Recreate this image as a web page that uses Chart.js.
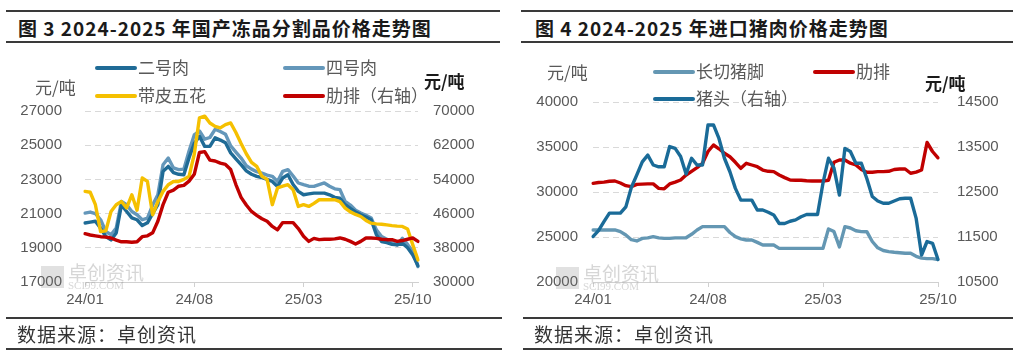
<!DOCTYPE html>
<html>
<head>
<meta charset="utf-8">
<script src="https://cdn.jsdelivr.net/npm/chart.js@4.4.1/dist/chart.umd.min.js"></script>
<style>
	body { margin: 0; background: #fff; width: 1019px; height: 360px; position: relative; overflow: hidden; }
	.rule { position: absolute; height: 2px; background: #3a3a3a; }
	.title { position: absolute; top: 17px; font: 700 19px 'Noto Sans CJK SC'; line-height: 22px; color: #1a1a1a; letter-spacing: 1px; white-space: nowrap; }
	.source { position: absolute; top: 323px; font: 19px 'Noto Sans CJK SC'; line-height: 22px; color: #333; letter-spacing: 1px; white-space: nowrap; }
	canvas { position: absolute; top: 0; }
</style>
</head>
<body>
<div class="rule" style="left:6px;top:10px;width:494px"></div>
<div class="title" style="left:18px">图 3 2024-2025 年国产冻品分割品价格走势图</div>
<div class="rule" style="left:6px;top:41px;width:494px"></div>
<canvas id="dongpin" width="510" height="360" style="left:0"></canvas>
<div class="rule" style="left:6px;top:317px;width:496px"></div>
<div class="source" style="left:17px">数据来源：卓创资讯</div>
<div class="rule" style="left:6px;top:348px;width:496px"></div>

<div class="rule" style="left:521px;top:10px;width:492px"></div>
<div class="title" style="left:535px">图 4 2024-2025 年进口猪肉价格走势图</div>
<div class="rule" style="left:521px;top:41px;width:492px"></div>
<canvas id="jinkou" width="509" height="360" style="left:510px"></canvas>
<div class="rule" style="left:523px;top:317px;width:490px"></div>
<div class="source" style="left:534px">数据来源：卓创资讯</div>
<div class="rule" style="left:523px;top:348px;width:490px"></div>

<script>
// 每月三个点（上/中/下旬）
const months = ['24/01', '24/02', '24/03', '24/04', '24/05', '24/06', '24/07', '24/08', '24/09', '24/10', '24/11', '24/12',
	'25/01', '25/02', '25/03', '25/04', '25/05', '25/06', '25/07', '25/08', '25/09', '25/10'];
const tickLabels = ['24/01', '24/08', '25/03', '25/10'];
const categories = months.flatMap((m) => [m + '上', m + '中', m + '下']).slice(0, 65);

// 图3 国产冻品分割品（元/吨）
const erHaoRou = [20450, 20500, 20550, 20150, 19660, 19460, 19870, 21500, 21120, 20750,
	20640, 20300, 20460, 21000, 21520, 23470, 23760, 23400, 23300, 23270,
	24270, 25100, 25520, 24930, 24930, 25430, 25300, 25140, 24550, 24200,
	23860, 23500, 23300, 23180, 23100, 23000, 22880, 22590, 23080, 23270,
	22700, 22300, 22100, 22150, 22200, 22200, 22200, 22100, 21950, 21900,
	21520, 21300, 21100, 20930, 20800, 20640, 19760, 19370, 19300, 19200,
	19170, 19270, 19000, 18580, 17950];
const siHaoRou = [21030, 21090, 21000, 20640, 19950, 19760, 20150, 21710, 21520, 21120,
	20930, 20640, 20740, 21500, 22100, 23860, 24250, 23670, 23570, 23600,
	24660, 25600, 25830, 25350, 25450, 25930, 25800, 25640, 24960, 24600,
	24250, 23800, 23600, 23450, 23370, 23250, 23180, 22880, 23470, 23570,
	23200, 22790, 22690, 22600, 22590, 22700, 22790, 22600, 22450, 22400,
	21710, 21500, 21200, 21030, 20900, 20740, 20050, 19660, 19500, 19300,
	19170, 19560, 19200, 18780, 17900];
const daiPiWuHua = [22300, 22250, 21520, 19950, 19990, 21120, 21520, 21710, 21330, 22100,
	21200, 23080, 22880, 20930, 21700, 22300, 22690, 22880, 22880, 23000,
	23180, 24470, 26600, 26700, 26300, 26100, 26010, 26200, 26300, 25740,
	25100, 24500, 24000, 23760, 23180, 23000, 21520, 22500, 22600, 22690,
	22400, 21420, 21520, 21420, 21600, 21810, 21810, 21810, 21810, 21700,
	21320, 21100, 20950, 20830, 20600, 20440, 20400, 20380, 20340, 20300,
	20270, 20250, 20100, 19170, 18290];
const leiPai = [41300, 41000, 40800, 40600, 40500, 40300, 39800, 39400, 39400, 39300,
	39400, 40600, 40800, 41500, 44200, 48100, 51000, 51500, 52400, 52600,
	53600, 55200, 60300, 60500, 58500, 58300, 57800, 57500, 56300, 52800,
	49800, 48000, 46500, 45600, 44800, 44200, 43000, 42200, 43900, 43900,
	43900, 42500, 40700, 39500, 40200, 39900, 40000, 40000, 40100, 40300,
	40000, 39500, 38900, 39500, 40300, 40300, 40200, 40000, 39900, 39900,
	39500, 39700, 40000, 40300, 39500];

// 图4 进口猪肉（元/吨）
const changQieZhuJiao = [25780, 25780, 25780, 25780, 25780, 25600, 25220, 24700, 24560, 24850,
	24900, 25040, 24900, 24850, 24850, 24900, 24900, 24920, 25300, 25780,
	26150, 26150, 26150, 26150, 26150, 25500, 25040, 24800, 24670, 24670,
	24400, 24110, 24110, 24110, 23740, 23740, 23740, 23740, 23740, 23740,
	23740, 23740, 23740, 25900, 25600, 23900, 26150, 26000, 25700, 25600,
	25590, 24500, 23800, 23500, 23370, 23300, 23250, 23200, 23190, 22850,
	22650, 22600, 22600, 22500];
const jinKouLeiPai = [30960, 31050, 31100, 31200, 31220, 31000, 30700, 30590, 30850, 30880,
	30900, 30900, 30400, 30350, 30900, 31100, 31330, 31890, 32300, 32700,
	33190, 34500, 35220, 34800, 34300, 33920, 33300, 32630, 33190, 33000,
	32810, 32440, 32300, 32260, 31890, 31600, 31330, 31300, 31300, 31250,
	31220, 31220, 31220, 31300, 33300, 33560, 33560, 33200, 33000, 32500,
	32190, 32200, 32260, 32260, 32300, 32500, 32560, 32560, 32080, 32200,
	32440, 35500, 34500, 33800];
const zhuTou = [11510, 11640, 11840, 12030, 12030, 12030, 12170, 12600, 12880, 13170,
	13320, 13100, 13060, 13060, 13510, 13470, 13290, 12900, 13250, 13100,
	13100, 13990, 13990, 13690, 13250, 12950, 12580, 12320, 12320, 12320,
	12100, 12100, 12050, 11990, 11800, 11800, 11850, 11880, 11950, 12000,
	12000, 12000, 12700, 13250, 13030, 12430, 13470, 13400, 13140, 13140,
	12800, 12400, 12300, 12250, 12250, 12300, 12350, 12360, 12360, 11920,
	11100, 11400, 11360, 11000];

const tickFont = { family: 'Liberation Sans', size: 15 };
const gray = '#595959';

const xTick = (value, index) => {
	const lab = categories[index];
	if (lab.endsWith('上') && tickLabels.includes(lab.slice(0, 5))) return lab.slice(0, 5);
	return null;
};
const plainNum = (v) => String(v);

// 图例、单位、水印
const decor = (spots, units, mark) => ({
	id: 'decor',
	beforeDatasetsDraw(chart) {
		const c = chart.ctx;
		c.save();
		c.fillStyle = 'rgba(120,120,120,0.22)';
		c.fillRect(mark[0] - 27, mark[1] - 7, 23, 22);
		c.fillStyle = 'rgba(120,120,120,0.3)';
		c.font = '19px "Noto Sans CJK SC"';
		c.textBaseline = 'middle';
		c.fillText('卓创资讯', mark[0], mark[1]);
		c.font = '11px "Liberation Serif"';
		c.fillText('SCI99.COM', mark[0], mark[1] + 13);
		c.restore();
	},
	afterDraw(chart) {
		const c = chart.ctx;
		c.save();
		c.textBaseline = 'middle';
		chart.data.datasets.forEach((ds, i) => {
			const p = spots[i];
			c.strokeStyle = ds.borderColor;
			c.lineWidth = 4;
			c.lineCap = 'round';
			c.beginPath();
			c.moveTo(p[0], p[1]);
			c.lineTo(p[0] + 38, p[1]);
			c.stroke();
			c.fillStyle = gray;
			c.font = '17px "Noto Sans CJK SC"';
			c.fillText(ds.label, p[0] + 41, p[1]);
		});
		units.forEach((u) => {
			c.fillStyle = u[2];
			c.font = u[3] + ' 17px "Noto Sans CJK SC"';
			c.fillText('元/吨', u[0], u[1]);
		});
		c.restore();
	}
});

const lineOpts = (padding, left, right) => ({
	responsive: false,
	animation: false,
	layout: { padding: padding },
	plugins: { legend: { display: false }, tooltip: { enabled: false } },
	elements: {
		point: { radius: 0 },
		line: { borderWidth: 3.4, tension: 0, borderJoinStyle: 'round', borderCapStyle: 'round' }
	},
	scales: {
		x: {
			grid: { drawOnChartArea: false, drawTicks: true, tickLength: 5, color: '#d0d0d0' },
			border: { color: '#d0d0d0' },
			ticks: { autoSkip: false, maxRotation: 0, padding: 4, color: gray, font: tickFont, callback: xTick },
			afterFit: (s) => { s.height = 30; }
		},
		y: {
			position: 'left',
			min: left[0], max: left[1],
			ticks: { stepSize: left[2], padding: left[3], color: gray, font: tickFont, callback: plainNum },
			grid: { color: '#d9d9d9', drawTicks: false },
			border: { display: false, dash: [6, 4] },
			afterFit: (s) => { s.width = 70; }
		},
		y1: {
			position: 'right',
			min: right[0], max: right[1],
			ticks: { stepSize: right[2], padding: right[3], color: gray, font: tickFont, callback: plainNum },
			grid: { display: false, drawTicks: false },
			border: { display: false },
			afterFit: (s) => { s.width = 70; }
		}
	}
});

const ctx = document.getElementById('dongpin').getContext('2d');
const ctx_2 = document.getElementById('jinkou').getContext('2d');

new Chart(ctx, {
	type: 'line',
	data: {
		labels: categories,
		datasets: [
			{ label: '二号肉', data: erHaoRou, borderColor: '#1f6b96', yAxisID: 'y', order: 2 },
			{ label: '四号肉', data: siHaoRou, borderColor: '#6497ba', yAxisID: 'y', order: 3 },
			{ label: '带皮五花', data: daiPiWuHua, borderColor: '#f5c000', yAxisID: 'y', order: 1 },
			{ label: '肋排（右轴）', data: leiPai, borderColor: '#c00000', yAxisID: 'y1', order: 0 }
		]
	},
	options: lineOpts({ left: 15, right: 22, top: 111, bottom: 48 }, [17000, 27000, 2000, 23], [30000, 70000, 8000, 15]),
	plugins: [decor([[97, 68], [285, 68], [97, 96], [285, 96]], [[35, 88, gray, 'normal'], [424, 82, '#1a1a1a', 'bold']], [68, 273])]
});

new Chart(ctx_2, {
	type: 'line',
	data: {
		labels: categories.slice(0, 64),
		datasets: [
			{ label: '长切猪脚', data: changQieZhuJiao, borderColor: '#6497b3', yAxisID: 'y', order: 2 },
			{ label: '肋排', data: jinKouLeiPai, borderColor: '#c00000', yAxisID: 'y', order: 1 },
			{ label: '猪头（右轴）', data: zhuTou, borderColor: '#1a6b98', yAxisID: 'y1', order: 0 }
		]
	},
	options: lineOpts({ left: 13, right: 11, top: 102, bottom: 48 }, [20000, 40000, 5000, 15], [10500, 14500, 1000, 19]),
	plugins: [decor([[145, 72], [305, 72], [145, 99]], [[37, 73, gray, 'normal'], [415, 84, '#1a1a1a', 'bold']], [73, 274])]
});
</script>
</body>
</html>
